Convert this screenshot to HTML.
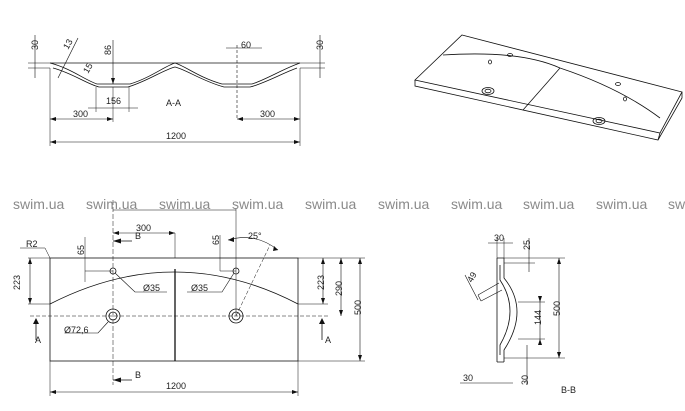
<!DOCTYPE html>
<html><head><meta charset="utf-8"><style>
html,body{margin:0;padding:0;background:#fff;}
svg{display:block;font-family:"Liberation Sans",sans-serif;}
.d{font-size:9px;fill:#222}
.w{font-size:14px;fill:#8a8a8a}
</style></head><body>
<svg width="685" height="411" viewBox="0 0 685 411" xmlns="http://www.w3.org/2000/svg">
<g stroke="#111" fill="none" stroke-width="0.8">
<!-- A-A section -->
<line x1="50" y1="63" x2="300" y2="63"/>
<path d="M50,63 C70,68 85,80 97,84 L130,84 C150,78 165,66 175,63 C185,66 200,78 222,84 L252,84 C265,80 285,68 300,63"/>
<path d="M53,68 C72,73 87,84 99,87 L128,87 C148,81 163,70 175,67 C187,70 202,81 224,87 L250,87 C263,84 283,73 297,68"/>
<line x1="28" y1="63" x2="50" y2="63" stroke-width="0.5"/><line x1="28" y1="68" x2="50" y2="68" stroke-width="0.5"/>
<line x1="35" y1="35" x2="35" y2="78" stroke-width="0.6"/>
<line x1="300" y1="63" x2="325" y2="63" stroke-width="0.5"/><line x1="300" y1="68" x2="325" y2="68" stroke-width="0.5"/>
<line x1="320" y1="35" x2="320" y2="78" stroke-width="0.6"/>
<line x1="58" y1="78" x2="78" y2="38" stroke-width="0.6"/>
<line x1="113" y1="40" x2="113" y2="84" stroke-width="0.6"/>
<line x1="237" y1="45" x2="237" y2="120" stroke-width="0.6" stroke-dasharray="3,2"/>
<line x1="226" y1="48" x2="262" y2="48" stroke-width="0.6"/>
<line x1="50" y1="68" x2="50" y2="146" stroke-width="0.5"/><line x1="300" y1="68" x2="300" y2="146" stroke-width="0.5"/>
<line x1="96" y1="87" x2="96" y2="112" stroke-width="0.5"/><line x1="129" y1="87" x2="129" y2="112" stroke-width="0.5"/>
<line x1="88" y1="108" x2="138" y2="108" stroke-width="0.6"/>
<line x1="113" y1="87" x2="113" y2="122" stroke-width="0.5"/>
<line x1="50" y1="119" x2="113" y2="119" stroke-width="0.6"/>
<line x1="237" y1="119" x2="300" y2="119" stroke-width="0.6"/>
<line x1="50" y1="142" x2="300" y2="142" stroke-width="0.6"/>
<!-- iso view -->
<path d="M462,35 L682,92 L660,133 L415,80 Z"/>
<path d="M415,80 L415,86 L658,140 L660,133 M658,140 L682,98 L682,92"/>
<path d="M443,55 Q520,50 560,68 Q620,88 660,118"/>
<line x1="560" y1="68" x2="523" y2="110"/>
<ellipse cx="488" cy="91" rx="6" ry="3.5"/><ellipse cx="488" cy="91" rx="3" ry="1.8"/>
<ellipse cx="599" cy="121" rx="6" ry="3.5"/><ellipse cx="599" cy="121" rx="3" ry="1.8"/>
<ellipse cx="510" cy="55" rx="2.5" ry="1.5"/><ellipse cx="490" cy="62" rx="1.5" ry="2"/>
<ellipse cx="618" cy="84" rx="2.5" ry="1.5"/><ellipse cx="625" cy="99" rx="1.5" ry="2"/>
<!-- plan view -->
<rect x="50" y="258" width="248" height="103"/>
<line x1="175" y1="269" x2="175" y2="361" stroke-width="1.3"/>
<path d="M50,304 Q175,240 298,304"/>
<circle cx="113" cy="271" r="3"/><circle cx="236" cy="271" r="3"/>
<circle cx="113" cy="316" r="7"/><circle cx="113" cy="316" r="4"/>
<circle cx="236" cy="316" r="7"/><circle cx="236" cy="316" r="4"/>
<line x1="30" y1="316" x2="330" y2="316" stroke-width="0.5" stroke-dasharray="4,2"/>
<line x1="113" y1="200" x2="113" y2="385" stroke-width="0.5" stroke-dasharray="5,2"/>
<line x1="236" y1="208" x2="236" y2="316" stroke-width="0.5"/>
<line x1="113" y1="210" x2="236" y2="210" stroke-width="0.5"/>
<line x1="113" y1="233" x2="175" y2="233" stroke-width="0.6"/><line x1="175" y1="233" x2="175" y2="258" stroke-width="0.5"/>
<line x1="85" y1="237" x2="85" y2="282" stroke-width="0.5"/><line x1="85" y1="271" x2="113" y2="271" stroke-width="0.5"/>
<line x1="220" y1="235" x2="220" y2="271" stroke-width="0.5"/><line x1="220" y1="271" x2="236" y2="271" stroke-width="0.5"/>
<path d="M228,240 Q255,232 278,250" stroke-width="0.6"/>
<line x1="236" y1="316" x2="270" y2="245" stroke-width="0.5" stroke-dasharray="4,2"/>
<path d="M115,273 L135,292 L167,292 M234,273 L222,292 L187,292 M108,322 L98,333 L65,333" stroke-width="0.6"/>
<line x1="28" y1="258" x2="50" y2="258" stroke-width="0.5"/><line x1="28" y1="304" x2="50" y2="304" stroke-width="0.5"/>
<line x1="30" y1="258" x2="30" y2="304" stroke-width="0.6"/>
<line x1="298" y1="304" x2="328" y2="304" stroke-width="0.5"/><line x1="298" y1="258" x2="365" y2="258" stroke-width="0.5"/>
<line x1="298" y1="361" x2="365" y2="361" stroke-width="0.5"/>
<line x1="323" y1="258" x2="323" y2="304" stroke-width="0.6"/>
<line x1="341" y1="258" x2="341" y2="316" stroke-width="0.6"/>
<line x1="360" y1="258" x2="360" y2="361" stroke-width="0.6"/>
<line x1="50" y1="361" x2="50" y2="396" stroke-width="0.5"/><line x1="298" y1="361" x2="298" y2="396" stroke-width="0.5"/>
<line x1="50" y1="392" x2="298" y2="392" stroke-width="0.6"/>
<line x1="36" y1="320" x2="36" y2="340" stroke-width="0.8"/><line x1="322" y1="320" x2="322" y2="340"/>
<line x1="113" y1="241" x2="132" y2="241"/><line x1="113" y1="380" x2="132" y2="380"/>
<line x1="20" y1="248" x2="45" y2="248" stroke-width="0.5"/><line x1="45" y1="248" x2="50" y2="258" stroke-width="0.5"/>
<!-- B-B -->
<path d="M497,258 L497,362 M504,258 L504,278 Q530,310 504,350 L504,362 M497,258 L504,258 M497,362 L504,362"/>
<path d="M500,265 L500,280 Q520,310 500,345 L500,355"/>
<line x1="497" y1="238" x2="497" y2="258" stroke-width="0.5"/><line x1="504" y1="238" x2="504" y2="258" stroke-width="0.5"/>
<line x1="488" y1="243" x2="513" y2="243" stroke-width="0.6"/>
<line x1="504" y1="258" x2="565" y2="258" stroke-width="0.5"/><line x1="504" y1="263" x2="535" y2="263" stroke-width="0.5"/>
<line x1="529" y1="238" x2="529" y2="272" stroke-width="0.6"/>
<line x1="559" y1="258" x2="559" y2="358" stroke-width="0.6"/>
<line x1="504" y1="358" x2="565" y2="358" stroke-width="0.5"/>
<line x1="518" y1="302" x2="545" y2="302" stroke-width="0.5"/><line x1="518" y1="339" x2="545" y2="339" stroke-width="0.5"/>
<line x1="540" y1="296" x2="540" y2="345" stroke-width="0.6"/>
<line x1="527" y1="345" x2="527" y2="385" stroke-width="0.6"/>
<line x1="460" y1="383" x2="513" y2="383" stroke-width="0.6"/>
<path d="M499,283 L478,295 M502,290 L481,301 M478,295 L481,301 M478,300 L465,275" stroke-width="0.6"/>
</g>
<g fill="#111">
<path d="M113,84 l-2,-6 l4,0z M50,119 l6,-2 l0,4z M113,119 l-6,-2 l0,4z M237,119 l6,-2 l0,4z M300,119 l-6,-2 l0,4z M50,142 l6,-2 l0,4z M300,142 l-6,-2 l0,4z"/>
<path d="M50,392 l6,-2 l0,4z M298,392 l-6,-2 l0,4z M113,233 l6,-2 l0,4z M175,233 l-6,-2 l0,4z M30,258 l-2,6 l4,0z M30,304 l-2,-6 l4,0z M323,258 l-2,6 l4,0z M323,304 l-2,-6 l4,0z M341,258 l-2,6 l4,0z M341,316 l-2,-6 l4,0z M360,258 l-2,6 l4,0z M360,361 l-2,-6 l4,0z"/>
<path d="M36,318 l-3,6 l6,0z M322,318 l-3,6 l6,0z M113,241 l8,-2.5 l0,5z M113,380 l8,-2.5 l0,5z M228,240 l6,-3 l0,5z M278,250 l-4,-4 l-1,5z"/>
<path d="M559,258 l-2,6 l4,0z M559,358 l-2,-6 l4,0z M540,302 l-2,-6 l4,0z M540,339 l-2,6 l4,0z"/>
</g>
<g class="d">
<text x="38" y="50" transform="rotate(-90 38 50)">30</text>
<text x="323" y="50" transform="rotate(-90 323 50)">30</text>
<text x="68" y="50" transform="rotate(-60 68 50)">13</text>
<text x="88" y="74" transform="rotate(-60 88 74)">15</text>
<text x="111" y="55" transform="rotate(-90 111 55)">86</text>
<text x="241" y="48">60</text>
<text x="106" y="104">156</text>
<text x="166" y="106">A-A</text>
<text x="73" y="117">300</text>
<text x="260" y="117">300</text>
<text x="166" y="139">1200</text>
<text x="136" y="231">300</text>
<text x="135" y="239">B</text>
<text x="135" y="378">B</text>
<text x="26" y="247">R2</text>
<text x="84" y="255" transform="rotate(-90 84 255)">65</text>
<text x="219" y="245" transform="rotate(-90 219 245)">65</text>
<text x="20" y="290" transform="rotate(-90 20 290)">223</text>
<text x="324" y="290" transform="rotate(-90 324 290)">223</text>
<text x="342" y="296" transform="rotate(-90 342 296)">290</text>
<text x="361" y="315" transform="rotate(-90 361 315)">500</text>
<text x="143" y="291">Ø35</text>
<text x="191" y="291">Ø35</text>
<text x="64" y="333">Ø72,6</text>
<text x="248" y="239">25°</text>
<text x="35" y="343">A</text>
<text x="325" y="343">A</text>
<text x="166" y="389">1200</text>
<text x="494" y="241">30</text>
<text x="530" y="250" transform="rotate(-90 530 250)">25</text>
<text x="472" y="283" transform="rotate(-60 472 283)">49</text>
<text x="541" y="325" transform="rotate(-90 541 325)">144</text>
<text x="560" y="316" transform="rotate(-90 560 316)">500</text>
<text x="463" y="381">30</text>
<text x="528" y="385" transform="rotate(-90 528 385)">30</text>
<text x="561" y="393">B-B</text>
</g>
<g class="w">
<text x="13" y="209">swim.ua</text><text x="86" y="209">swim.ua</text><text x="159" y="209">swim.ua</text>
<text x="232" y="209">swim.ua</text><text x="305" y="209">swim.ua</text><text x="378" y="209">swim.ua</text>
<text x="451" y="209">swim.ua</text><text x="523" y="209">swim.ua</text><text x="596" y="209">swim.ua</text>
<text x="668" y="209">swim.ua</text>
</g>
</svg>
</body></html>
